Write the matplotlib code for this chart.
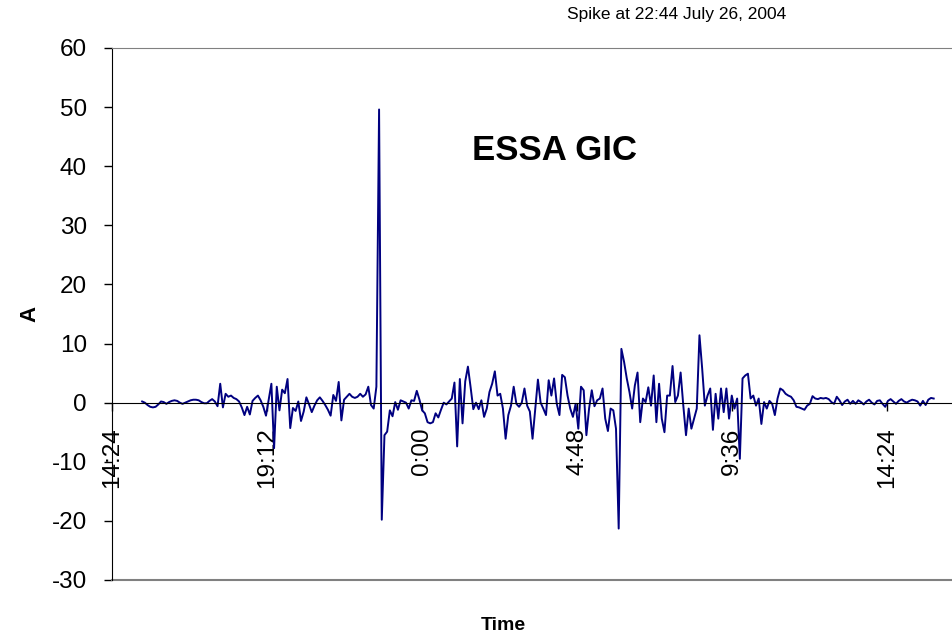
import pandas as pd
import matplotlib
matplotlib.use('Agg')
import matplotlib.pyplot as plt

plt.rcParams['font.family'] = ['Liberation Sans', 'DejaVu Sans']
plt.rcParams['axes.unicode_minus'] = False

# GIC samples every 5 minutes starting 15:20 July 26, 2004 (one row per hour)
start = '2004-07-26 15:20'
step = '5min'
gic = [
    0.2, 0.0, -0.4, -0.7, -0.8, -0.7, -0.3, 0.2, 0.1, -0.2, 0.1, 0.3,      # 15:20
    0.4, 0.3, 0.0, -0.2, 0.0, 0.2, 0.4, 0.5, 0.5, 0.4, 0.1, -0.1,          # 16:20
    -0.1, 0.3, 0.6, 0.2, -0.6, 3.2, -0.8, 1.5, 1.0, 1.2, 0.8, 0.6,         # 17:20
    0.2, -0.8, -2.1, -0.7, -2.0, 0.3, 0.8, 1.2, 0.4, -0.7, -2.2, 0.5,      # 18:20
    3.2, -7.7, 2.7, -1.3, 2.2, 1.6, 4.0, -4.3, -0.9, -1.4, 0.2, -3.1,      # 19:20
    -1.5, 0.9, -0.3, -1.6, -0.5, 0.4, 0.9, 0.3, -0.4, -1.2, -2.2, 1.3,     # 20:20
    0.3, 3.5, -3.0, 0.5, 1.0, 1.5, 1.0, 0.8, 1.0, 1.5, 1.0, 1.4,           # 21:20
    2.7, -0.4, -1.0, 2.7, 49.6, -19.8, -5.5, -4.9, -1.3, -2.3, 0.1, -1.2,  # 22:20
    0.4, 0.2, 0.0, -1.0, 0.4, 0.3, 2.0, 0.5, -1.3, -1.8, -3.3, -3.5,       # 23:20
    -3.3, -1.8, -2.5, -1.2, 0.0, -0.3, 0.2, 0.7, 3.4, -7.4, 4.0, -3.5,     # 0:20
    3.6, 6.1, 2.6, -1.1, 0.0, -1.1, 0.4, -2.4, -1.0, 1.8, 3.2, 5.3,        # 1:20
    1.2, 1.5, -1.0, -6.1, -2.1, -0.5, 2.7, -0.2, -0.7, 0.0, 2.4, -0.5,     # 2:20
    -1.5, -6.1, -1.0, 3.9, 0.0, -1.0, -2.1, 3.8, 1.2, 4.1, -0.2, -2.1,     # 3:20
    4.7, 4.3, 1.2, -1.0, -2.4, -0.2, -4.4, 2.7, 2.1, -5.5, -1.0, 2.1,      # 4:20
    -0.6, 0.4, 0.7, 2.4, -2.7, -4.8, -1.0, -1.3, -4.4, -21.3, 9.1, 6.9,    # 5:20
    4.1, 1.8, -1.0, 2.9, 5.1, -3.3, 0.7, 0.1, 2.6, -0.5, 4.6, -3.3,        # 6:20
    3.2, -2.7, -5.0, 1.2, 1.2, 6.2, 0.1, 1.2, 5.1, -0.5, -5.5, -1.0,       # 7:20
    -4.4, -2.7, -1.0, 11.4, 5.8, -0.5, 1.2, 2.4, -4.6, 1.5, -2.7, 2.4,     # 8:20
    -1.6, 2.4, -2.7, 1.2, -1.0, 0.7, -9.5, 4.1, 4.6, 4.9, 0.7, 1.2,        # 9:20
    -0.5, 0.7, -3.6, 0.1, -1.0, 0.3, -0.2, -2.1, 0.7, 2.4, 2.1, 1.5,       # 10:20
    1.2, 1.0, 0.4, -0.7, -0.8, -1.0, -1.2, -0.5, -0.2, 1.1, 0.7, 0.6,      # 11:20
    0.8, 0.7, 0.8, 0.6, 0.1, -0.2, 1.0, 0.4, -0.4, 0.2, 0.5, -0.2,         # 12:20
    0.3, -0.2, 0.4, 0.1, -0.3, 0.2, 0.5, 0.0, -0.3, 0.3, 0.4, -0.2,        # 13:20
    -0.7, 0.3, 0.6, 0.2, -0.2, 0.3, 0.6, 0.2, 0.0, 0.3, 0.5, 0.4,          # 14:20
    0.2, -0.5, 0.3, -0.4, 0.5, 0.8, 0.7,                                   # 15:20
]

tick_labels = ['14:24', '19:12', '0:00', '4:48', '9:36', '14:24']
tick_times = pd.date_range('2004-07-26 14:24', periods=len(tick_labels), freq='288min')
x_start = pd.Timestamp('2004-07-26 14:24')
x_end = pd.Timestamp('2004-07-27 16:24')

times = pd.date_range(start, periods=len(gic), freq=step)

fig = plt.figure(figsize=(9.52, 6.44), dpi=100)
ax = fig.add_axes([112 / 952, 64 / 644, 1 - 112 / 952, 532 / 644])

ax.plot(times, gic, color='#000080', lw=1.4)

ax.set_ylim(-30, 60)
ax.set_yticks(range(-30, 61, 10))
ax.set_xlim(x_start, x_end)
ax.set_xticks(tick_times)
ax.set_xticklabels(tick_labels)

ax.spines['bottom'].set_position(('data', 0))
ax.spines['right'].set_visible(False)
ax.spines['top'].set_color('#808080')
ax.axhline(-30, color='#808080', lw=1.5, clip_on=False)

ax.tick_params(axis='x', direction='out', length=6, width=1, pad=12, labelsize=17.5,
               labelrotation=90)
ax.tick_params(axis='y', direction='out', length=6, width=1, pad=12, labelsize=17.5)
for lbl in ax.get_xticklabels():
    lbl.set_ha('center')
    lbl.set_va('top')

ax.set_ylabel('A', fontsize=16, fontweight='bold', va='center')
ax.yaxis.set_label_coords((30 - 112) / 840, 0.5)
ax.set_xlabel('Time', fontsize=14, fontweight='bold', va='center')
ax.xaxis.set_label_coords((503 - 112) / 840, (644 - 625 - 64) / 532)

ax.text((555 - 112) / 840, (580 - 150) / 532, 'ESSA GIC', transform=ax.transAxes,
        fontsize=25, fontweight='bold', ha='center', va='center')
fig.text(677 / 952, 1 - 15 / 644, 'Spike at 22:44 July 26, 2004', fontsize=12.5,
         ha='center', va='center')

fig.savefig('out.png', dpi=100)
